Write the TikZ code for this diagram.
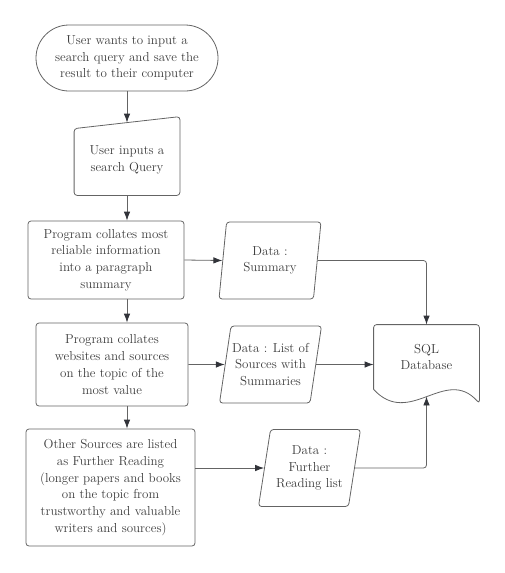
\documentclass[tikz,border=0pt]{standalone}
\usepackage{tikz}
\usetikzlibrary{positioning}
\usetikzlibrary{shapes.geometric}
\usetikzlibrary{arrows.meta}

\definecolor{linegrey}{RGB}{100,100,100}
\definecolor{textgrey}{RGB}{60,60,60}
\definecolor{tipgrey}{RGB}{50,52,58}

\begin{document}
\begin{tikzpicture}[
        x = 1pt, y = -1pt,
        box/.style = {
            draw = linegrey,
            line width = 0.8pt,
            rectangle,
            rounded corners = 3pt,
            align = center,
            text = textgrey,
            font = \fontsize{13}{16.7}\selectfont,
            inner sep = 0pt
        },
        data/.style = {
            box,
            trapezium,
            trapezium left angle = 75,
            trapezium right angle = 105,
            trapezium stretches body,
            minimum width = 102pt,
            minimum height = 77pt
        },
        flow/.style = {
            -{Latex[length=9pt, width=6.5pt, color=tipgrey]},
            draw = linegrey,
            line width = 0.8pt
        }
        ]
%
        \useasboundingbox (0,0) rectangle (505,573);
        \coordinate (spine) at (127,0);
%
        \node[box, rounded corners=33pt, minimum width=182pt, minimum height=66pt] (start) at (127,58)
                {User wants to input a\\ search query and save the\\ result to their computer};
%
        \node[box, draw=none, minimum width=105pt, minimum height=70pt] (query) at (127,160)
                {User inputs a\\ search Query};
        \draw[linegrey, line width=0.8pt, rounded corners=3pt] ([yshift=-4pt]query.north west) -- ([yshift=8pt]query.north east)
                -- (query.south east) -- (query.south west) -- cycle;
%
        \node[box, minimum width=156pt, minimum height=78pt] (collate) at (106,260)
                {Program collates most\\ reliable information\\ into a paragraph\\ summary};
        \node[box, minimum width=152pt, minimum height=83pt] (websites) at (112,364.5)
                {Program collates\\ websites and sources\\ on the topic of the\\ most value};
        \node[box, minimum width=169pt, minimum height=117pt] (further) at (110.5,487.5)
                {Other Sources are listed\\ as Further Reading\\ (longer papers and books\\ on the topic from\\ trustworthy and valuable\\ writers and sources)};
%
        \node[data] (dsummary) at (270,260.5) {Data :\\ Summary};
        \node[data] (dlist) at (270.5,364.5) {Data : List of\\ Sources with\\ Summaries};
        \node[data] (dreading) at (309.5,468) {Data :\\ Further\\ Reading list};
%
        \node[box, draw=none, minimum width=105pt, minimum height=64pt] (sql) at (426.5,357) {SQL\\ Database};
        \draw[linegrey, line width=0.8pt, rounded corners=3pt] (sql.south west) -- (sql.north west) -- (sql.north east)
                -- ([yshift=-14pt]sql.south east) .. controls +(-34,-38) and +(36,39) .. (sql.south west);
        \coordinate (sqlwave) at ([yshift=-7pt]sql.south);
%
%
        \draw[flow] (start) -- ([yshift=2pt]query.north);
        \draw[flow] (query.south) -- (query.south |- collate.north);
        \draw[flow] (spine |- collate.south) -- (spine |- websites.north);
        \draw[flow] (spine |- websites.south) -- (spine |- further.north);
%
        \draw[flow] (collate.east) -- (dsummary.west);
        \draw[flow] (websites.east) -- (dlist.west);
        \draw[flow] (further.east |- dreading.west) -- (dreading.west);
%
        \draw[flow, rounded corners=3pt] (dsummary.east) -| (sql.north);
        \draw[flow] (dlist.east) -- (dlist.east -| sql.west);
        \draw[flow, rounded corners=3pt] (dreading.east) -| (sqlwave);
%
    \end{tikzpicture}
\end{document}
